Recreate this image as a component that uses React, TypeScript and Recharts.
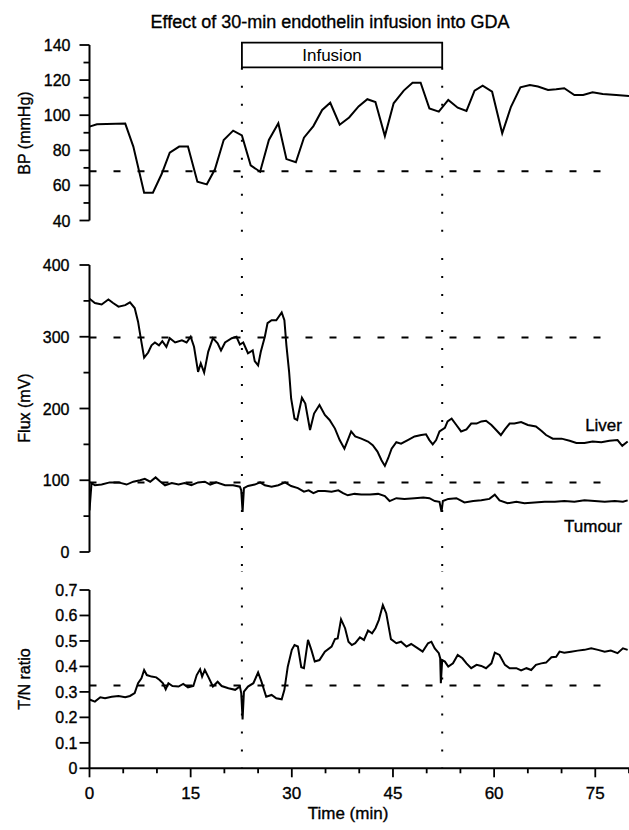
import React from "react";
import {
  LineChart,
  Line,
  XAxis,
  YAxis,
  ReferenceLine,
  ReferenceArea,
} from "recharts";

// time (min), value pairs
const bpTrace: [number, number][] = [
  [0, 93.5], [1.1, 94.8], [5.3, 95.2], [6.5, 82.1], [8.1, 55.8], [9.4, 55.8],
  [10.7, 66.5], [11.9, 78.6], [13.3, 82.1], [14.6, 82.1], [16.0, 62.1], [17.4, 60.6],
  [18.6, 69.2], [19.9, 85.9], [21.3, 91.2], [22.6, 88.5], [23.9, 71.4], [25.3, 67.8],
  [26.6, 85.9], [28.0, 95.4], [29.2, 75.0], [30.6, 73.2], [31.8, 87.2], [33.2, 93.8],
  [34.5, 103.0], [35.7, 107.1], [37.1, 94.6], [38.5, 98.7], [39.9, 105.0], [41.2, 109.1],
  [42.4, 107.5], [43.8, 88.1], [45.1, 106.8], [46.6, 114.0], [47.9, 118.5], [49.1, 118.5],
  [50.4, 103.9], [51.8, 102.0], [53.2, 108.7], [54.6, 104.3], [55.9, 102.4], [57.1, 114.0],
  [58.3, 116.8], [59.7, 113.4], [61.2, 89.7], [62.5, 104.8], [63.9, 115.9], [65.3, 117.2],
  [66.5, 116.3], [68.0, 114.4], [69.2, 114.8], [70.4, 115.4], [71.9, 111.5], [73.2, 111.5],
  [74.6, 113.0], [76.1, 112.1], [78.1, 111.5], [80, 111.0],
];

const liverTrace: [number, number][] = [
  [0, 353], [0.8, 347], [1.8, 345], [2.8, 352], [3.5, 347], [4.3, 342], [5.3, 344],
  [6.0, 348], [6.7, 340], [7.2, 321], [7.6, 298], [8.1, 271], [8.7, 278], [9.2, 288],
  [9.7, 292], [10.3, 288], [10.8, 294], [11.4, 286], [11.9, 298], [12.7, 292], [13.7, 295],
  [14.4, 292], [15.0, 300], [15.5, 286], [16.1, 251], [16.5, 263], [17.0, 250], [17.6, 279],
  [18.3, 298], [19.0, 291], [19.5, 281], [20.1, 292], [21.1, 298], [21.8, 300], [22.3, 289],
  [22.8, 292], [23.5, 277], [24.2, 281], [24.5, 266], [25.0, 260], [25.4, 279], [26.0, 300],
  [26.4, 319], [27.0, 323], [27.7, 323], [28.5, 334], [28.9, 323], [29.2, 288], [29.6, 251],
  [29.9, 214], [30.4, 186], [30.8, 184], [31.5, 215], [32.0, 207], [32.7, 170], [33.3, 193],
  [34.1, 205], [34.9, 191], [35.6, 184], [36.4, 172], [37.1, 156], [37.8, 144], [38.3, 156],
  [38.8, 168], [39.4, 161], [40.3, 158], [41.3, 154], [42.0, 149], [42.7, 140], [43.3, 128],
  [43.8, 120], [44.3, 131], [44.8, 144], [45.5, 153], [46.2, 151], [47.2, 156], [48.2, 161],
  [49.2, 163], [49.9, 164], [50.4, 156], [50.9, 150], [51.4, 156], [51.9, 168], [52.7, 173],
  [53.1, 182], [53.7, 186], [54.4, 177], [55.1, 168], [55.9, 171], [56.6, 179], [57.4, 179],
  [58.1, 182], [58.8, 183], [59.6, 177], [60.3, 170], [61.0, 163], [61.6, 171], [62.3, 179],
  [63.0, 179], [64.0, 181], [65.0, 177], [66.2, 175], [67.0, 169], [67.7, 163], [68.7, 158],
  [70.0, 158], [71.2, 155], [72.2, 152], [73.4, 152], [74.6, 154], [75.9, 153], [77.1, 155],
  [78.3, 156], [79.0, 148], [79.8, 154],
];

const tumourTrace: [number, number][] = [
  [0, 58], [0.3, 96], [0.8, 93], [1.8, 94], [3.0, 97], [4.3, 97], [5.5, 94], [6.5, 98],
  [7.5, 100], [8.2, 102], [9.0, 98], [9.8, 104], [10.4, 99], [11.2, 93], [12.2, 96],
  [13.2, 94], [14.1, 96], [15.1, 93], [16.1, 97], [17.1, 98], [17.9, 94], [18.8, 97],
  [20.1, 93], [21.3, 93], [22.3, 91], [22.5, 86], [22.7, 56], [22.9, 89], [23.5, 92],
  [24.5, 94], [25.3, 97], [26.0, 93], [27.0, 91], [28.0, 93], [29.0, 97], [29.9, 92],
  [30.9, 89], [31.8, 84], [32.5, 86], [33.2, 82], [33.9, 85], [34.9, 85], [35.9, 84],
  [36.9, 86], [37.6, 82], [38.3, 79], [39.3, 81], [40.3, 80], [41.6, 80], [42.8, 81],
  [43.8, 78], [44.5, 71], [45.5, 75], [46.7, 74], [48.2, 75], [49.5, 76], [50.4, 75],
  [51.2, 71], [51.9, 70], [52.2, 56], [52.4, 71], [53.2, 74], [54.4, 75], [55.6, 69],
  [56.9, 71], [58.1, 72], [59.3, 74], [60.1, 80], [60.8, 72], [62.0, 68], [63.3, 70],
  [64.5, 68], [66.0, 69], [67.5, 70], [69.0, 70], [70.4, 71], [71.9, 70], [73.4, 72],
  [74.9, 71], [76.4, 70], [77.9, 71], [79.1, 70], [79.8, 72],
];

const ratioTrace: [number, number][] = [
  [0, 0.27], [0.8, 0.262], [1.6, 0.279], [2.3, 0.275], [3.3, 0.281], [4.3, 0.284],
  [5.3, 0.279], [6.0, 0.284], [6.7, 0.295], [7.2, 0.334], [7.7, 0.353], [8.1, 0.386],
  [8.5, 0.366], [9.2, 0.36], [9.9, 0.357], [10.4, 0.347], [10.9, 0.334], [11.3, 0.31],
  [11.7, 0.334], [12.3, 0.323], [13.2, 0.321], [13.9, 0.331], [14.6, 0.318], [15.4, 0.323],
  [15.9, 0.366], [16.4, 0.389], [16.7, 0.36], [17.1, 0.386], [17.6, 0.36], [18.3, 0.321],
  [19.0, 0.34], [19.6, 0.323], [20.6, 0.314], [21.6, 0.308], [22.3, 0.321], [22.5, 0.295],
  [22.7, 0.192], [22.9, 0.301], [23.5, 0.321], [24.3, 0.334], [25.0, 0.376], [25.5, 0.34],
  [26.2, 0.281], [27.0, 0.288], [27.7, 0.275], [28.5, 0.271], [28.9, 0.308], [29.4, 0.399],
  [30.0, 0.465], [30.4, 0.484], [30.9, 0.478], [31.4, 0.397], [31.8, 0.393], [32.4, 0.504],
  [32.9, 0.465], [33.4, 0.419], [34.1, 0.425], [34.9, 0.458], [35.9, 0.478], [36.4, 0.507],
  [36.8, 0.51], [37.3, 0.585], [37.9, 0.55], [38.4, 0.497], [38.9, 0.484], [39.4, 0.491],
  [40.1, 0.514], [40.7, 0.504], [41.3, 0.541], [41.9, 0.53], [42.4, 0.55], [42.9, 0.582],
  [43.5, 0.641], [44.0, 0.609], [44.7, 0.507], [45.5, 0.491], [46.2, 0.497], [47.0, 0.478],
  [47.7, 0.488], [48.7, 0.471], [49.4, 0.458], [50.2, 0.491], [50.7, 0.497], [51.2, 0.471],
  [51.8, 0.452], [52.0, 0.432], [52.1, 0.334], [52.3, 0.425], [52.7, 0.419], [53.2, 0.399],
  [53.9, 0.412], [54.6, 0.445], [55.3, 0.432], [55.9, 0.412], [56.6, 0.393], [57.4, 0.406],
  [58.1, 0.402], [58.8, 0.393], [59.6, 0.412], [60.1, 0.454], [60.8, 0.445], [61.6, 0.406],
  [62.3, 0.393], [63.3, 0.393], [64.0, 0.384], [64.8, 0.393], [65.5, 0.386], [66.2, 0.406],
  [67.0, 0.412], [67.7, 0.415], [68.5, 0.436], [69.2, 0.438], [69.7, 0.458], [70.4, 0.454],
  [71.4, 0.458], [72.4, 0.462], [73.4, 0.465], [74.4, 0.471], [75.4, 0.465], [76.4, 0.458],
  [77.3, 0.462], [78.3, 0.452], [79.1, 0.471], [79.8, 0.465],
];

// baselines (dashed) and infusion window
const bpBaseline = 68;
const liverBaseline = 299;
const tumourBaseline = 97;
const ratioBaseline = 0.325;
const infusionStart = 22.6;
const infusionEnd = 52.3;

const timeTicks = [0, 5, 10, 15, 20, 25, 30, 35, 40, 45, 50, 55, 60, 65, 70, 75, 80];
const bpTicks = [40, 50, 60, 70, 80, 90, 100, 110, 120, 130, 140];
const fluxTicks = [0, 50, 100, 150, 200, 250, 300, 350, 400];
const ratioTicks = [0, 0.1, 0.2, 0.3, 0.4, 0.5, 0.6, 0.7];

const FONT = '"Liberation Sans", Arial, Helvetica, sans-serif';
const W = 629;
const AXIS_W = 89.5;
// scanned type looks heavier than plain Liberation Sans
const INK = { fill: "#000", stroke: "#000", strokeWidth: 0.35 };

const rows = (pts: [number, number][]) => pts.map(([t, v]) => ({ t, v }));

const onStep = (v: number, step: number) =>
  Math.abs(v / step - Math.round(v / step)) < 1e-6;

function LeftTick(props: any) {
  const { x, y, payload, every, gap, fmt } = props;
  const v = payload.value;
  const big = onStep(v, every);
  return (
    <g>
      <line x1={x} x2={x - (big ? 10 : 6)} y1={y} y2={y} stroke="#000" strokeWidth={1.8} />
      {big && (
        <text x={x - gap} y={y + 6} textAnchor="end" fontSize={16} fontFamily={FONT} {...INK}>
          {fmt(v)}
        </text>
      )}
    </g>
  );
}

function BottomTick(props: any) {
  const { x, y, payload } = props;
  const v = payload.value;
  const big = onStep(v, 15);
  return (
    <g>
      <line x1={x} x2={x} y1={y} y2={y + (big ? 9 : 5)} stroke="#000" strokeWidth={1.8} />
      {big && (
        <text x={x} y={y + 31} textAnchor="middle" fontSize={17} fontFamily={FONT} {...INK}>
          {v}
        </text>
      )}
    </g>
  );
}

const lineProps = {
  type: "linear" as const,
  dataKey: "v",
  stroke: "#000",
  strokeWidth: 2,
  dot: false,
  isAnimationActive: false,
};

const dashed = { stroke: "#000", strokeWidth: 2, strokeDasharray: "7 17", ifOverflow: "visible" as const };
const dotted = { stroke: "#000", strokeWidth: 2, strokeDasharray: "2 16", ifOverflow: "visible" as const };

const axisLine = { stroke: "#000", strokeWidth: 2 };

function HiddenX() {
  return <XAxis dataKey="t" type="number" domain={[0, 80]} hide allowDataOverflow />;
}

export default function App() {
  return (
    <div
      style={{
        position: "absolute",
        left: 0,
        top: 0,
        width: W,
        height: 830,
        background: "#fff",
        overflow: "hidden",
        fontFamily: FONT,
      }}
    >
      {/* BP panel */}
      <div style={{ position: "absolute", left: 0, top: 0 }}>
        <LineChart width={W} height={242} margin={{ top: 45, right: 0, bottom: 21.5, left: 0 }}>
          {HiddenX()}
          <YAxis
            type="number"
            domain={[40, 140]}
            ticks={bpTicks}
            interval={0}
            width={AXIS_W}
            tickSize={0}
            tickMargin={0}
            axisLine={axisLine}
            tickLine={false}
            allowDataOverflow
            tick={(p: any) => <LeftTick {...p} every={20} gap={19} fmt={(v: number) => String(v)} />}
          />
          <ReferenceLine segment={[{ x: 0, y: bpBaseline }, { x: 77.5, y: bpBaseline }]} {...dashed} />
          <ReferenceLine segment={[{ x: infusionStart, y: 127 }, { x: infusionStart, y: 27 }]} {...dotted} />
          <ReferenceLine segment={[{ x: infusionEnd, y: 127 }, { x: infusionEnd, y: 27 }]} {...dotted} />
          <ReferenceArea
            x1={infusionStart}
            x2={infusionEnd}
            y1={127.3}
            y2={141.3}
            ifOverflow="visible"
            fill="#fff"
            fillOpacity={1}
            stroke="#000"
            strokeWidth={1.8}
            label={{ value: "Infusion", position: "center", fill: "#000", fontSize: 17, fontFamily: FONT, dx: -10 }}
          />
          <Line data={rows(bpTrace)} {...lineProps} />
        </LineChart>
      </div>

      {/* Flux panel */}
      <div style={{ position: "absolute", left: 0, top: 242 }}>
        <LineChart width={W} height={329} margin={{ top: 23, right: 0, bottom: 19, left: 0 }}>
          {HiddenX()}
          <YAxis
            type="number"
            domain={[0, 400]}
            ticks={fluxTicks}
            interval={0}
            width={AXIS_W}
            tickSize={0}
            tickMargin={0}
            axisLine={axisLine}
            tickLine={false}
            allowDataOverflow
            tick={(p: any) => <LeftTick {...p} every={100} gap={20} fmt={(v: number) => String(v)} />}
          />
          <ReferenceLine segment={[{ x: 0, y: liverBaseline }, { x: 77.5, y: liverBaseline }]} {...dashed} />
          <ReferenceLine segment={[{ x: 0, y: tumourBaseline }, { x: 77.5, y: tumourBaseline }]} {...dashed} />
          <ReferenceLine segment={[{ x: infusionStart, y: 435 }, { x: infusionStart, y: -28 }]} {...dotted} />
          <ReferenceLine segment={[{ x: infusionEnd, y: 435 }, { x: infusionEnd, y: -28 }]} {...dotted} />
          <Line data={rows(liverTrace)} {...lineProps} />
          <Line data={rows(tumourTrace)} {...lineProps} />
        </LineChart>
      </div>

      {/* T/N ratio panel */}
      <div style={{ position: "absolute", left: 0, top: 571 }}>
        <LineChart width={W} height={259} margin={{ top: 19, right: 0, bottom: 21.7, left: 0 }}>
          <XAxis
            dataKey="t"
            type="number"
            domain={[0, 80]}
            ticks={timeTicks}
            interval={0}
            height={40}
            tickSize={0}
            tickMargin={0}
            axisLine={axisLine}
            tickLine={false}
            allowDataOverflow
            tick={(p: any) => <BottomTick {...p} />}
          />
          <YAxis
            type="number"
            domain={[0, 0.7]}
            ticks={ratioTicks}
            interval={0}
            width={AXIS_W}
            tickSize={0}
            tickMargin={0}
            axisLine={axisLine}
            tickLine={false}
            allowDataOverflow
            tick={(p: any) => (
              <LeftTick {...p} every={0.1} gap={12} fmt={(v: number) => (v === 0 ? "0" : v.toFixed(1))} />
            )}
          />
          <ReferenceLine segment={[{ x: 0, y: ratioBaseline }, { x: 77.5, y: ratioBaseline }]} {...dashed} />
          <ReferenceLine segment={[{ x: infusionStart, y: 0.78 }, { x: infusionStart, y: 0 }]} {...dotted} />
          <ReferenceLine segment={[{ x: infusionEnd, y: 0.78 }, { x: infusionEnd, y: 0 }]} {...dotted} />
          <Line data={rows(ratioTrace)} {...lineProps} />
        </LineChart>
      </div>

      {/* titles and labels */}
      <svg
        width={W}
        height={830}
        style={{ position: "absolute", left: 0, top: 0, pointerEvents: "none" }}
        fontFamily={FONT}
        {...INK}
      >
        <text x={330} y={28} textAnchor="middle" fontSize={18}>
          Effect of 30-min endothelin infusion into GDA
        </text>
        <text transform="translate(30,133) rotate(-90)" textAnchor="middle" fontSize={16}>
          BP (mmHg)
        </text>
        <text transform="translate(30,408) rotate(-90)" textAnchor="middle" fontSize={16}>
          Flux (mV)
        </text>
        <text transform="translate(30,679) rotate(-90)" textAnchor="middle" fontSize={16}>
          T/N ratio
        </text>
        <text x={348} y={819} textAnchor="middle" fontSize={17}>
          Time (min)
        </text>
        <text x={622} y={431} textAnchor="end" fontSize={17}>
          Liver
        </text>
        <text x={622} y={532} textAnchor="end" fontSize={17}>
          Tumour
        </text>
      </svg>
    </div>
  );
}
